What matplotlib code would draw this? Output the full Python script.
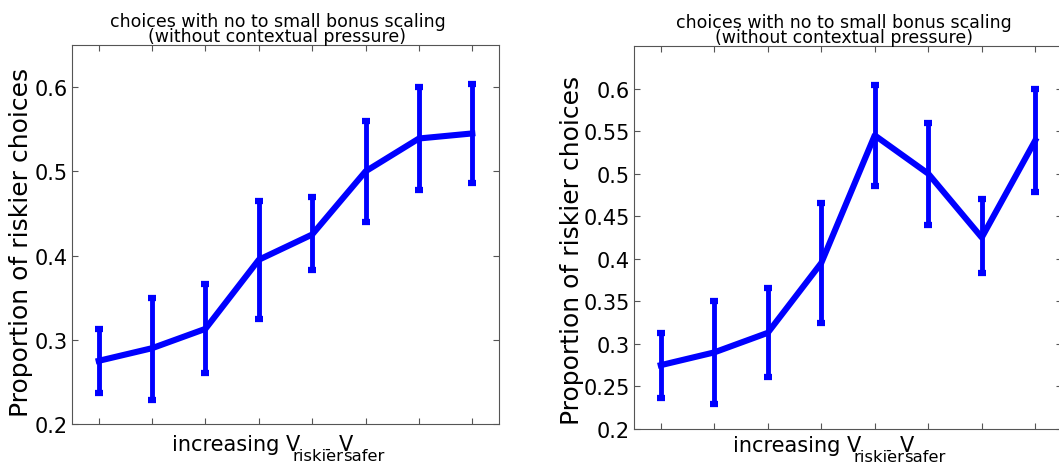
"""Two panels: proportion of riskier choices vs. value difference bins."""

import numpy as np
from matplotlib import pyplot as plt
from matplotlib.transforms import Affine2D

# bins of V_riskier - V_safer (unlabelled)
bins = np.arange(1, 9)

# left panel: bins sorted
left_mean = [0.275, 0.290, 0.313, 0.395, 0.425, 0.500, 0.539, 0.545]
left_lo = [0.237, 0.229, 0.261, 0.325, 0.383, 0.440, 0.478, 0.486]
left_hi = [0.313, 0.350, 0.366, 0.465, 0.470, 0.560, 0.600, 0.604]

# right panel
right_mean = [0.275, 0.290, 0.313, 0.395, 0.545, 0.500, 0.425, 0.539]
right_lo = [0.237, 0.229, 0.261, 0.325, 0.486, 0.440, 0.383, 0.478]
right_hi = [0.313, 0.350, 0.366, 0.465, 0.604, 0.560, 0.470, 0.600]

title = "choices with no to small bonus scaling\n(without contextual pressure)"
ylab = "Proportion of riskier choices"
# matlab-ish xlabel pieces: (text, size, baseline shift px, dx px, index to chain from)
xlab_parts = [
    ("increasing V", 15.0, 0, 0, None),
    ("riskier", 11.8, -10, -8, 0),
    ("-", 11.8, -3, -19, 1),
    ("V", 15.0, 0, -4, 1),
    ("safer", 11.8, -10, -10, 3),
]

fig = plt.figure(figsize=(10.59, 4.64), dpi=100)
W, H = 1059, 464
ax1 = fig.add_axes([72 / W, 1 - 425 / H, 427 / W, 379 / H])
ax2 = fig.add_axes([634 / W, 1 - 430 / H, 428 / W, 383 / H])
renderer = fig.canvas.get_renderer()


def xlabel(ax, x0, y0):
    # place pieces one after another in pixel space
    bx, by = ax.transAxes.transform((x0, y0))
    texts = []
    for s, size, dy, dx, ref in xlab_parts:
        x = bx if ref is None else texts[ref].get_window_extent(renderer).x1 + dx
        t = fig.text(x, by + dy, s, fontsize=size, va='baseline', ha='left',
                     transform=Affine2D())
        texts.append(t)


def panel(ax, mean, lo, hi, yticks, title_x, ylab_xy, xlab_xy):
    mean = np.asarray(mean)
    err = [mean - np.asarray(lo), np.asarray(hi) - mean]
    ax.errorbar(bins, mean, yerr=err, color='#0000ff', lw=4.4,
                elinewidth=3.5, capsize=3.2, capthick=4.5)
    ax.set_xlim(0.5, 8.5)
    ax.set_ylim(0.2, 0.65)
    ax.set_xticks(bins)
    ax.set_xticklabels([])
    ax.set_yticks(yticks)
    ax.set_yticklabels([f"{t:g}" for t in yticks])
    ax.tick_params(direction='in', top=True, right=True, length=4,
                   color='#555555', labelsize=15, pad=3)
    for s in ax.spines.values():
        s.set_color('#555555')
    ax.set_title(title, fontsize=12.5, pad=1, linespacing=0.8, x=title_x)
    ax.set_ylabel(ylab, fontsize=18)
    ax.yaxis.set_label_coords(*ylab_xy)
    xlabel(ax, *xlab_xy)


panel(ax1, left_mean, left_lo, left_hi, np.arange(0.2, 0.61, 0.1).round(2),
      0.481, (-0.092, 0.483), (0.234, -0.069))
panel(ax2, right_mean, right_lo, right_hi, np.arange(0.2, 0.61, 0.05).round(2),
      0.49, (-0.117, 0.47), (0.231, -0.057))

fig.savefig('out.png', dpi=100)
